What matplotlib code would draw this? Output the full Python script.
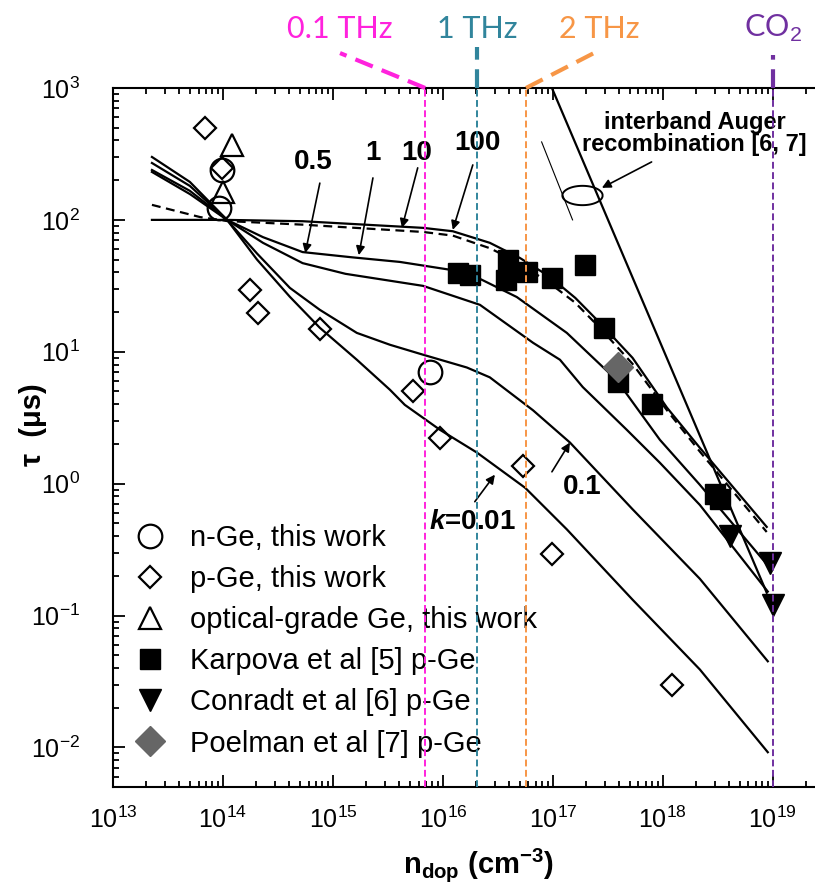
import numpy as np
import matplotlib
matplotlib.use('Agg')
import matplotlib.pyplot as plt
from matplotlib.path import Path
from matplotlib import ticker

plt.rcParams['font.family'] = ['Liberation Sans', 'DejaVu Sans']
plt.rcParams['mathtext.fontset'] = 'custom'
plt.rcParams['mathtext.rm'] = 'Liberation Sans'
plt.rcParams['mathtext.it'] = 'Liberation Sans:italic'
plt.rcParams['mathtext.bf'] = 'Liberation Sans:bold'
plt.rcParams['mathtext.bfit'] = 'Liberation Sans:bold:italic'
plt.rcParams['axes.unicode_minus'] = False

# model curves tau(n_dop) for several k
n_k100 = [2.26e13, 6.2e13, 1.09e14, 5.3e14, 6.6e15, 1.23e16, 2.67e16, 5.0e16, 9.4e16, 1.6e17, 2.67e17, 5.3e17, 1.09e18, 2.17e18, 8.8e18]
tau_k100 = [130, 105, 98, 92, 81, 76, 61, 47, 33, 23.5, 15.2, 8.1, 3.6, 1.75, 0.43]

n_k10 = [2.26e13, 1.09e14, 5.3e14, 6.6e15, 1.23e16, 2.67e16, 5.0e16, 9.4e16, 1.6e17, 2.67e17, 5.3e17, 1.09e18, 2.17e18, 8.8e18]
tau_k10 = [100, 100, 97.7, 87, 82, 67, 51.5, 37, 25.6, 16.6, 9.0, 3.77, 1.87, 0.47]

n_k1 = [2.26e13, 5.0e13, 1.09e14, 2.31e14, 5.3e14, 1.5e15, 4.06e15, 1.65e16, 4.7e16, 1.34e17, 3.8e17, 9.4e17, 2.17e18, 9.0e18]
tau_k1 = [231, 157, 100, 74, 57, 52, 48, 40, 26, 13.9, 6.1, 2.15, 0.98, 0.24]

n_k05 = [2.26e13, 5.0e13, 1.09e14, 2.31e14, 5.3e14, 1.3e15, 6.6e15, 2.17e16, 6.6e16, 1.16e17, 1.87e17, 4.7e17, 9.4e17, 2.17e18, 9.0e18]
tau_k05 = [239, 166, 100, 67, 47, 39, 31.6, 22.7, 11.7, 8.7, 5.4, 2.56, 1.44, 0.69, 0.152]

n_k01 = [2.26e13, 5.0e13, 1.09e14, 2.04e14, 4.06e14, 7.6e14, 1.65e15, 3.3e15, 6.6e15, 1.65e16, 2.67e16, 6.6e16, 1.43e17, 5.3e17, 2.17e18, 9.0e18]
tau_k01 = [270, 181, 100, 55.6, 30.5, 20.8, 13.9, 11.3, 9.5, 7.6, 6.4, 3.6, 2.05, 0.64, 0.19, 0.045]

n_k001 = [2.26e13, 5.0e13, 1.09e14, 2.04e14, 4.06e14, 7.6e14, 1.65e15, 3.3e15, 4.5e15, 9.4e15, 2.04e16, 5.6e16, 1.34e17, 5.3e17, 2.17e18, 9.0e18]
tau_k001 = [300, 194, 100, 50, 26.1, 15.2, 8.7, 5.15, 3.96, 2.56, 1.72, 0.93, 0.45, 0.132, 0.039, 0.0092]

# interband Auger recombination line
n_auger = [9.8e16, 8.8e18]
tau_auger = [1000, 0.149]

# measured points
n_nge = [9.8e13, 9.2e13, 7.6e15]
tau_nge = [239, 123, 7.0]
n_pge = [6.9e13, 9.8e13, 1.76e14, 2.1e14, 7.6e14, 5.3e15, 9.4e15, 5.4e16, 9.8e16, 1.2e18]
tau_pge = [500, 248, 29.5, 19.7, 15, 5.0, 2.2, 1.37, 0.295, 0.0295]
n_opt = [1.21e14, 1.0e14]
tau_opt = [370, 163]
n_karp = [1.37e16, 1.76e16, 3.9e16, 3.74e16, 5.8e16, 9.8e16, 1.95e17, 2.9e17, 3.9e17, 7.9e17, 2.97e18, 3.3e18]
tau_karp = [39.6, 38, 50, 35, 40, 36, 45.6, 15.2, 5.9, 4.0, 0.83, 0.76]
n_conr = [4.06e18, 9.4e18, 1.0e19]
tau_conr = [0.40, 0.25, 0.12]
n_poel = [3.9e17]
tau_poel = [7.6]

# frequency marks
freq_labels = ['0.1 THz', '1 THz', '2 THz', 'CO$_2$']
freq_n = [6.9e15, 2.05e16, 5.7e16, 1.0e19]
freq_colors = ['#FF22DD', '#31859C', '#F79646', '#7030A0']

x_ticks = [1e13, 1e14, 1e15, 1e16, 1e17, 1e18, 1e19]
y_ticks = [1e-2, 1e-1, 1e0, 1e1, 1e2, 1e3]

fig = plt.figure(figsize=(8.15, 8.93), dpi=100)
ax = fig.add_axes([113/815, 1-787/893, (830-113)/815, (787-88)/893])
ax.set_xscale('log')
ax.set_yscale('log')
ax.set_xlim(1e13, 10**19.52)
ax.set_ylim(10**-2.3, 1e3)

lw = 1.6
ax.plot(n_k10, tau_k10, color='k', lw=lw)
ax.plot(n_k100, tau_k100, color='k', lw=lw, ls=(0, (4, 2.5)))
ax.plot(n_k1, tau_k1, color='k', lw=lw)
ax.plot(n_k05, tau_k05, color='k', lw=lw)
ax.plot(n_k01, tau_k01, color='k', lw=lw)
ax.plot(n_k001, tau_k001, color='k', lw=lw)
ax.plot(n_auger, tau_auger, color='k', lw=lw)

mew = 1.6
h1, = ax.plot(n_nge, tau_nge, 'o', ms=17, mfc='none', mec='k', mew=mew, label='n-Ge, this work')
h2, = ax.plot(n_pge, tau_pge, 'D', ms=11.5, mfc='none', mec='k', mew=mew, label='p-Ge, this work')
h3, = ax.plot(n_opt, tau_opt, '^', ms=16, mfc='none', mec='k', mew=mew, label='optical-grade Ge, this work')
h4, = ax.plot(n_karp, tau_karp, 's', ms=14, mfc='k', mec='k', label='Karpova et al [5] p-Ge')
h5, = ax.plot(n_conr, tau_conr, 'v', ms=16, mfc='k', mec='k', label='Conradt et al [6] p-Ge')
h6, = ax.plot(n_poel, tau_poel, 'D', ms=15, mfc='#666666', mec='#666666', label='Poelman et al [7] p-Ge')

# curve labels with arrows
def label_arrow(text, txt_xy, tail, tip):
    ax.text(txt_xy[0], txt_xy[1], text, ha='center', va='center', fontsize=20, fontweight='bold')
    ax.annotate('', xy=tip, xytext=tail,
                arrowprops=dict(arrowstyle='-|>', color='k', lw=1.2, mutation_scale=13,
                                shrinkA=0, shrinkB=0))

label_arrow('0.5', (6.6e14, 276), (7.6e14, 190), (5.6e14, 56))
label_arrow('1', (2.31e15, 322), (2.31e15, 208), (1.72e15, 54))
label_arrow('10', (5.8e15, 322), (5.9e15, 248), (4.24e15, 87))
label_arrow('100', (2.04e16, 383), (1.87e16, 261), (1.23e16, 84))
label_arrow('0.1', (1.84e17, 0.95), (9.8e16, 1.23), (1.43e17, 2.05))
label_arrow(r'$\mathbfit{k}$=0.01', (1.84e16, 0.515), (1.95e16, 0.73), (2.97e16, 1.17))

# Auger annotation
theta = np.linspace(0, 2 * np.pi, 80)
ell = Path(np.column_stack([np.cos(theta), 0.48 * np.sin(theta)]))
ax.plot([1.84e17], [155], marker=ell, ms=29, mfc='none', mec='k', mew=1.4)
ax.plot([7.9e16, 1.51e17], [390, 100], color='k', lw=0.8)
ax.annotate('', xy=(2.79e17, 175), xytext=(7.9e17, 275),
            arrowprops=dict(arrowstyle='-|>', color='k', lw=1.2, mutation_scale=13,
                            shrinkA=0, shrinkB=0))
ax.text(1.95e18, 452, 'interband Auger\nrecombination [6, 7]', ha='center', va='center',
        fontsize=17, fontweight='bold', linespacing=0.9)

# frequency lines
top_ends = [(1.16e15, 1840), (2.05e16, 2040), (2.67e17, 1940), (1.0e19, 1780)]
for lab, n, c, (nt, tt) in zip(freq_labels, freq_n, freq_colors, top_ends):
    ax.axvline(n, color=c, lw=1.4, ls=(0, (3.5, 1.8)), zorder=6)
    ax.plot([n, nt], [1000, tt], color=c, lw=3, ls=(0, (4.5, 2.3)), clip_on=False, zorder=6)
    ax.text(nt, 10**3.45, lab, color=c, fontsize=22, family='Lato', ha='center', va='center')

# axes styling
for s in ax.spines.values():
    s.set_linewidth(1.5)
ax.set_xticks(x_ticks)
ax.set_yticks(y_ticks)
ax.tick_params(which='both', direction='in', top=True, right=True, width=1.3)
ax.tick_params(which='major', length=8.5, labelsize=18)
ax.tick_params(which='minor', length=4.5)
ax.tick_params(axis='x', pad=14)
ax.tick_params(axis='y', pad=24)
ax.xaxis.set_minor_locator(ticker.LogLocator(base=10, subs=np.arange(2, 10), numticks=20))
ax.yaxis.set_minor_locator(ticker.LogLocator(base=10, subs=np.arange(2, 10), numticks=20))
ax.xaxis.set_minor_formatter(ticker.NullFormatter())
ax.yaxis.set_minor_formatter(ticker.NullFormatter())

ax.set_xlabel(r'n$_\mathbf{dop}$ (cm$^\mathbf{-3}$)', fontsize=21, fontweight='bold')
ax.xaxis.set_label_coords((478-113)/717, -0.085)
ax.set_ylabel('τ  (μs)', fontsize=21, fontweight='bold')
ax.yaxis.set_label_coords(-0.092, 0.518)

ax.legend(handles=[h1, h2, h3, h4, h5, h6], loc='upper left',
          bbox_to_anchor=((133-113)/717, (787-524)/699), frameon=False,
          fontsize=21, borderpad=0, borderaxespad=0, handlelength=1.15,
          handletextpad=0.8, labelspacing=0.45)

fig.savefig('out.png', dpi=100)
